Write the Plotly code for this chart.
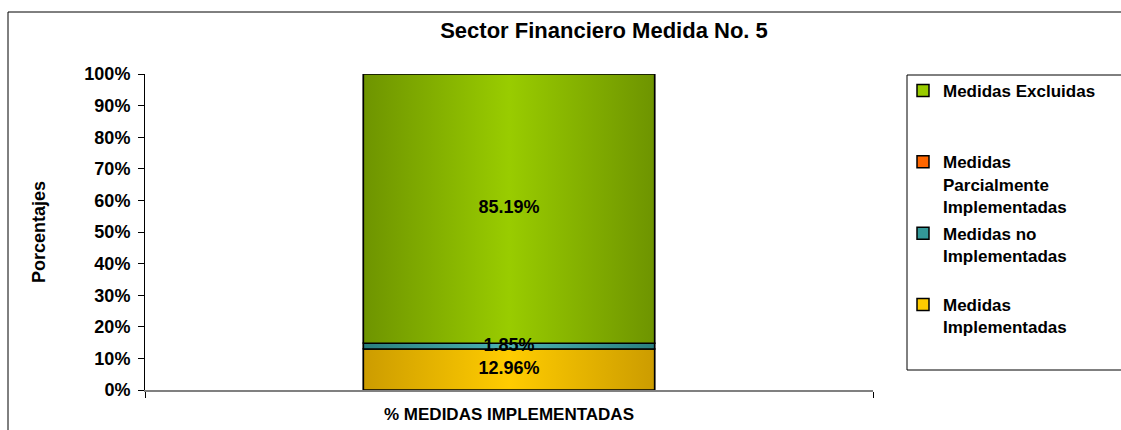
import plotly.graph_objects as go

# ---- data ----
categories = ["% MEDIDAS IMPLEMENTADAS"]
series_names = [
    "Medidas<br>Implementadas",
    "Medidas no<br>Implementadas",
    "Medidas<br>Parcialmente<br>Implementadas",
    "Medidas Excluidas",
]
series_values = [12.96, 1.85, 0.00, 85.19]
y_ticks = [0, 10, 20, 30, 40, 50, 60, 70, 80, 90, 100]
y_tick_labels = [f"{t}%" for t in y_ticks]
title_text = "Sector Financiero Medida No. 5"
y_title = "Porcentajes"

# ---- style ----
FONT = "Liberation Sans, Arial, sans-serif"
solid_colors = ["#ffcc00", "#339999", "#ff6600", "#99cc00"]
grad_colors = [
    ("#cc9c00", "#ffcc00"),
    ("#2a7f7f", "#4cb3b3"),
    ("#cc5200", "#ff6600"),
    ("#6e9400", "#99cc00"),
]
legend_pad = ["<br> ", "<br> ", "", "<br> <br> "]
BAR_W = 0.4

W, H = 1121, 430
L, R, T, B = 145, 1121 - 873, 74, 40
pw, ph = W - L - R, H - T - B

def px_x(px):
    return (px - L) / pw

def px_y(py):
    return (H - B - py) / ph

fig = go.Figure()

# stacking bases from the data
bases = []
acc = 0.0
for val in series_values:
    bases.append(acc)
    acc += val

# bars (legend entries + geometry); added top-first so legend lists top-first
for i in reversed(range(len(series_values))):
    fig.add_trace(go.Bar(
        x=[0], y=[series_values[i]], base=[bases[i]], width=BAR_W,
        name=series_names[i] + legend_pad[i],
        marker=dict(color=solid_colors[i], line=dict(color="black", width=1.5)),
        legendgroup=f"g{i}", hoverinfo="skip",
    ))

# gradient overlays drawn in data coordinates
for val, b, (dark, light) in zip(series_values, bases, grad_colors):
    if val <= 0:
        continue
    x0, x1 = -BAR_W / 2, BAR_W / 2
    fig.add_trace(go.Scatter(
        x=[x0, x1, x1, x0, x0], y=[b, b, b + val, b + val, b],
        mode="lines", fill="toself",
        fillgradient=dict(type="horizontal",
                          colorscale=[[0, dark], [0.5, light], [1, dark]]),
        line=dict(color="black", width=1.5),
        showlegend=False, hoverinfo="skip",
    ))

# value labels
lab_x, lab_y, lab_t = [], [], []
for val, b in zip(series_values, bases):
    if val > 0:
        lab_x.append(0)
        lab_y.append(b + val / 2)
        lab_t.append(f"{val:.2f}%")
fig.add_trace(go.Scatter(
    x=lab_x, y=lab_y, text=lab_t, mode="text",
    textfont=dict(family=FONT, size=18, color="black", weight="bold"),
    showlegend=False, hoverinfo="skip",
))

fig.update_layout(
    width=W, height=H,
    margin=dict(l=L, r=R, t=T, b=B, autoexpand=False),
    paper_bgcolor="white", plot_bgcolor="white",
    barmode="overlay",
    font=dict(family=FONT, color="black"),
    title=dict(text=title_text, x=604 / W, xanchor="center",
               y=1 - 30 / H, yanchor="middle", yref="container",
               font=dict(family=FONT, size=22, weight="bold", color="black")),
    showlegend=True,
    legend=dict(
        x=px_x(903), xanchor="left", y=px_y(73), yanchor="top",
        traceorder="grouped", tracegroupgap=2, valign="top",
        bgcolor="rgba(0,0,0,0)", borderwidth=0, itemwidth=30,
        maxheight=2000,
        font=dict(family=FONT, size=17, weight="bold", color="black"),
    ),
    xaxis=dict(
        range=[-0.5, 0.5], tickvals=[0], ticktext=categories, ticks="",
        showline=True, linecolor="#808080", linewidth=2,
        showgrid=False, zeroline=False, fixedrange=True,
        tickfont=dict(family=FONT, size=17, weight="bold", color="black"),
        ticklabelstandoff=8,
        minor=dict(tickmode="array", tickvals=[-0.5, 0.5], ticks="outside",
                   ticklen=6, tickcolor="black", tickwidth=1, showgrid=False),
    ),
    yaxis=dict(
        range=[0, 100], tickvals=y_ticks, ticktext=y_tick_labels,
        ticks="outside", ticklen=6, tickcolor="black", tickwidth=1,
        showline=True, linecolor="black", linewidth=1,
        showgrid=False, zeroline=False, fixedrange=True,
        ticklabelstandoff=4,
        tickfont=dict(family=FONT, size=18, weight="bold", color="black"),
        title=dict(text=y_title, standoff=34,
                   font=dict(family=FONT, size=18, weight="bold", color="black")),
    ),
    shapes=[
        # outer chart frame
        dict(type="rect", xref="paper", yref="paper",
             x0=px_x(8), x1=px_x(1135), y0=px_y(445), y1=px_y(12),
             line=dict(color="black", width=1), fillcolor="rgba(0,0,0,0)",
             layer="below"),
        # legend box
        dict(type="rect", xref="paper", yref="paper",
             x0=px_x(907), x1=px_x(1135), y0=px_y(370), y1=px_y(75),
             line=dict(color="black", width=1), fillcolor="rgba(0,0,0,0)",
             layer="above"),
    ],
)

fig.write_html("out.html", config={"displayModeBar": False},
               post_script="document.body.style.margin='0';")
